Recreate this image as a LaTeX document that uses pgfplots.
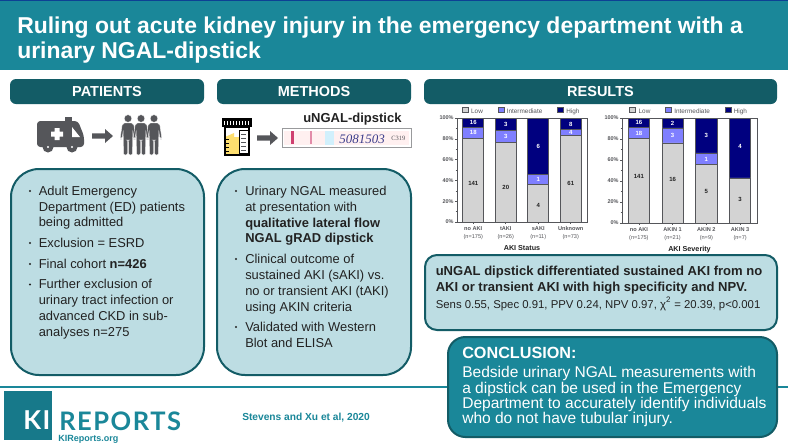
\documentclass[border=0pt]{standalone}
\usepackage{pgfplots}
\usepackage{pgfplotstable}
\usepackage{fontspec}
\pgfplotsset{compat=1.18}
\setmainfont{Liberation Sans}
\newfontfamily\logofont[LetterSpace=6]{Lato}
\newfontfamily\stripfont{Liberation Serif}

\definecolor{teal1}{HTML}{1A8799}
\definecolor{teal2}{HTML}{135C66}
\definecolor{boxfill}{HTML}{BDDDE3}
\definecolor{icon}{HTML}{55565A}
\definecolor{lowc}{HTML}{D3D3D3}
\definecolor{midc}{HTML}{7F7FFF}
\definecolor{highc}{HTML}{00007F}
\definecolor{txt}{HTML}{222222}

% sizes given in pixels of the 788 wide picture
\newcommand\fs[1]{\fontsize{\fpeval{0.75*#1}}{\fpeval{0.9*#1}}\selectfont}
\newcommand\tl[3]{\node[anchor=base west,inner sep=0pt,text=txt] at (#1,#2) {\fs{12.9}#3};}
\newcommand\bul[2]{\fill[txt] (#1,#2-4) circle (1.2);}
\newcommand\heading[3]{%
  \fill[teal2] (#1,79) [rounded corners=4.5pt] rectangle (#2,104);
  \node[text=white,font=\fs{14.5}\bfseries] at ({(#1+#2)/2},92) {#3};}
\newcommand\person[1]{%
  \begin{scope}[shift={(#1,0)}]
    \fill[icon,draw=white,line width=.25pt] (0,118.5) circle (3.8);
    \fill[icon,draw=white,line width=.25pt,rounded corners=1.5pt] (-5.5,123) -- (5.5,123) -- (8,139) -- (5.8,139) -- (4.8,130)
       -- (4.6,155) -- (0.5,155) -- (0.5,140) -- (-0.5,140) -- (-0.5,155) -- (-4.6,155) -- (-4.8,130)
       -- (-5.8,139) -- (-8,139) -- cycle;
  \end{scope}}
\newcommand\blockarrow[3]{\fill[icon] (#1,#3-2.6) -- (#2-8,#3-2.6) -- (#2-8,#3-7) -- (#2,#3) -- (#2-8,#3+7) -- (#2-8,#3+2.6) -- (#1,#3+2.6) -- cycle;}

% share of each group in percent, counts are in the label tables
\pgfplotstableread{
x low mid high
0 80.6 10.3 9.1
1 76.9 11.5 11.6
2 36.4 9.1 54.5
3 83.6 5.5 10.9
}\statusdata
\pgfplotstableread{
x low mid high
0 80.6 10.3 9.1
1 76.2 14.3 9.5
2 55.6 11.1 33.3
3 42.9 0 57.1
}\severitydata
\pgfplotstableread{
x y lab
0 37 141
1 33 20
2 16 4
3 37 61
}\statusdark
\pgfplotstableread{
x y lab
0 95.5 16
0 86 18
1 93.6 3
1 82 3
2 72.5 6
2 41 1
3 93.6 8
3 86 4
}\statuslight
\pgfplotstableread{
x y lab
0 44 141
1 41.6 16
2 30 5
3 22.7 3
}\severitydark
\pgfplotstableread{
x y lab
0 95.6 16
0 85 18
1 95 2
1 83 3
2 83 3
2 61 1
3 73 4
}\severitylight

\pgfplotsset{
  chartbase/.style={
    scale only axis, anchor=south west,
    xmin=-0.5, xmax=3.5, ymin=0, ymax=100,
  },
  stackchart/.style={
    chartbase,
    ybar stacked, bar width=15.9pt,
    axis line style={draw=icon,line width=.75pt},
    axis on top=false,
    xtick=data,
    ytick={0,20,40,60,80,100},
    yticklabels={0\%,20\%,40\%,60\%,80\%,100\%},
    minor ytick={10,30,50,70,90},
    tick style={draw=icon,line width=.4pt},
    major tick length=1.6pt, minor tick length=1pt,
    tick align=outside, xtick pos=bottom, ytick pos=left,
    yticklabel style={font=\fontsize{4.1}{5}\selectfont\bfseries,text=icon,inner sep=.8pt},
    xticklabel style={align=center,font=\fontsize{4.2}{6}\selectfont,text=icon,inner sep=1.5pt},
    every axis x label/.style={at={(axis description cs:0.5,-0.25)},anchor=center,
      font=\fontsize{5.4}{6}\selectfont\bfseries,text=txt},
    legend image code/.code={\draw[##1,line width=.45pt] (0pt,-.2pt) rectangle (4.5pt,3.6pt);},
    legend style={at={(0.5,1.03)},yshift=-2.4pt,anchor=south,legend columns=3,draw=none,fill=none,
      font=\fontsize{4.8}{6}\selectfont,text=icon,
      /tikz/every even column/.style={column sep=9pt},inner sep=0pt},
  },
  barlow/.style={draw=icon,fill=lowc,line width=.6pt},
  barmid/.style={draw=icon,fill=midc,line width=.6pt},
  barhigh/.style={draw=icon,fill=highc,line width=.6pt},
  labelchart/.style={
    chartbase, hide axis,
    nodes near coords, point meta=explicit symbolic,
    every node near coord/.style={anchor=center,inner sep=0pt,font=\fontsize{4.5}{5}\selectfont\bfseries},
  },
}

\begin{document}
\begin{tikzpicture}
\begin{scope}[x=.75pt,y=-.75pt]
  \useasboundingbox (0,0) rectangle (788,443);
  \fill[white] (0,0) rectangle (788,443);

  % title band
  \fill[teal1] (0,0) rectangle (788,70);
  \draw[teal2!70!blue,line width=.5pt] (0,.3) -- (788,.3);
  \node[anchor=base west,inner sep=0pt,text=white,font=\fs{22.95}\bfseries] at (17,33) {Ruling out acute kidney injury in the emergency department with a};
  \node[anchor=base west,inner sep=0pt,text=white,font=\fs{22.95}\bfseries] at (17,58) {urinary NGAL-dipstick};

  \heading{10}{204}{PATIENTS}
  \heading{217}{411}{METHODS}
  \heading{424}{777}{RESULTS}

  % ambulance
  \fill[icon,rounded corners=2.5pt] (37,121) -- (72,121) -- (78,121) -- (84,136) -- (84,147) -- (37,147) -- cycle;
  \fill[icon] (65,117) rectangle (72,122);
  \fill[icon] (48,147) circle (5.5) (72,147) circle (5.5);
  \fill[white] (48,147) circle (1.2) (72,147) circle (1.2);
  \fill[white] (72,127) -- (80,137) -- (72,137) -- cycle;
  \fill[white] (54.5,128) rectangle (59.5,140) (51,131.5) rectangle (63,136.5);
  \blockarrow{92}{113}{136}
  \person{128} \person{154} \person{141}

  % urine cup
  \fill[white] (225,127) rectangle (249,155);
  \fill[yellow!60!orange!55] (225,137) -- (234,133) -- (234,137) -- (249,137) -- (249,155) -- (225,155) -- cycle;
  \draw[black,line width=.9pt] (225,127) rectangle (249,155);
  \fill[black] (222,118) rectangle (252,127);
  \foreach \i in {224,227,...,250} \fill[white] (\i,121) rectangle (\i+1.4,125);
  \fill[white,draw=black,line width=.5pt] (239,130) rectangle (248,153);
  \foreach \i in {134,138,...,150} \draw[icon,line width=.5pt] (241,\i) -- (246,\i);
  \foreach \i in {139,143,...,151} \draw[black,line width=.5pt] (226,\i) -- (229,\i);

  \blockarrow{257}{278}{138}

  % dipstick
  \node[anchor=base west,inner sep=0pt,text=txt,font=\fs{13}\bfseries] at (303,122) {uNGAL-dipstick};
  \fill[white,draw=icon!60,line width=.6pt] (282,128) rectangle (411,147);
  \fill[red!6!white] (284,130.5) rectangle (409,144.5);
  \fill[cyan!18!white] (325,130.5) rectangle (334,144.5);
  \fill[purple!75!white] (290.5,131) rectangle (293.5,144);
  \fill[purple!45!white] (309.5,131) rectangle (312,144);
  \node[anchor=base west,inner sep=0pt,text=blue!30!icon,font=\stripfont\itshape\fs{13}] at (339,143) {5081503};
  \node[anchor=base west,inner sep=0pt,text=icon,font=\stripfont\fs{6.5}] at (391,140) {C319};

  % text boxes
  \draw[fill=boxfill,draw=teal2,line width=1.5pt,rounded corners=21pt] (11,169) rectangle (204,375);
  \draw[fill=boxfill,draw=teal2,line width=1.5pt,rounded corners=21pt] (217,169) rectangle (411,375);

  \bul{30}{195} \tl{38.5}{195}{Adult Emergency}
  \tl{38.5}{211}{Department (ED) patients}
  \tl{38.5}{226.5}{being admitted}
  \bul{30}{247} \tl{38.5}{247}{Exclusion = ESRD}
  \bul{30}{268} \tl{38.5}{268}{Final cohort \textbf{n=426}}
  \bul{30}{288.5} \tl{38.5}{288.5}{Further exclusion of}
  \tl{38.5}{304.5}{urinary tract infection or}
  \tl{38.5}{320}{advanced CKD in sub-}
  \tl{38.5}{336}{analyses n=275}

  \bul{236}{195} \tl{245}{195}{Urinary NGAL measured}
  \tl{245}{211}{at presentation with}
  \tl{245}{227}{\textbf{qualitative lateral flow}}
  \tl{245}{242}{\textbf{NGAL gRAD dipstick}}
  \bul{236}{263} \tl{245}{263}{Clinical outcome of}
  \tl{245}{279}{sustained AKI (sAKI) vs.}
  \tl{245}{295}{no or transient AKI (tAKI)}
  \tl{245}{311}{using AKIN criteria}
  \bul{236}{331} \tl{245}{331}{Validated with Western}
  \tl{245}{347}{Blot and ELISA}

  % results text
  \draw[fill=boxfill,draw=teal2,line width=1.5pt,rounded corners=9pt] (425,255) rectangle (777,330);
  \node[anchor=base west,inner sep=0pt,text=txt,font=\fs{13.03}\bfseries] at (435.5,275) {uNGAL dipstick differentiated sustained AKI from no};
  \node[anchor=base west,inner sep=0pt,text=txt,font=\fs{13.03}\bfseries] at (435.5,291) {AKI or transient AKI with high specificity and NPV.};
  \node[anchor=base west,inner sep=0pt,text=txt,font=\fs{11.37}] at (435.5,308) {Sens 0.55, Spec 0.91, PPV 0.24, NPV 0.97, χ\textsuperscript{2} = 20.39, p<0.001};

  % footer
  \draw[teal1,line width=1.5pt] (0,387) -- (449,387) (776,387) -- (788,387);
  \draw[fill=teal1,draw=teal2,line width=1.5pt,rounded corners=13pt] (448,337) rectangle (777,437);
  \node[anchor=base west,inner sep=0pt,text=white,font=\fs{16.2}\bfseries] at (462,358) {CONCLUSION:};
  \foreach \yy/\line in {377.5/Bedside urinary NGAL measurements with,393/a dipstick can be used in the Emergency,408.5/Department to accurately identify individuals,423.5/who do not have tubular injury.}
    \node[anchor=base west,inner sep=0pt,text=white,font=\fs{15.55}] at (462,\yy) {\line};

  \fill[teal1!90!black] (4,391) rectangle (52,440);
  \node[anchor=base west,inner sep=0pt,text=white,font=\logofont\bfseries\fs{26}] at (23,429) {KI};
  \node[anchor=base west,inner sep=0pt,text=teal1,font=\logofont\bfseries\fs{25.5}] at (59,430) {REPORTS};
  \node[anchor=base west,inner sep=0pt,text=teal1,font=\fs{9}\bfseries] at (58,441) {KIReports.org};
  \node[anchor=base west,inner sep=0pt,text=teal1,font=\fs{10.2}\bfseries] at (242,420) {Stevens and Xu et al, 2020};

  \coordinate (cha) at (457,222);
  \coordinate (chb) at (622,223);
\end{scope}

% left chart
\begin{axis}[stackchart,at={(cha)},width=97.5pt,height=78pt,
  xlabel={AKI Status},
  xticklabels={{\textbf{no AKI}\\(n=175)},{\textbf{tAKI}\\(n=26)},{\textbf{sAKI}\\(n=11)},{\textbf{Unknown}\\(n=73)}}]
\addplot[barlow] table[x=x,y=low]{\statusdata};
\addplot[barmid] table[x=x,y=mid]{\statusdata};
\addplot[barhigh] table[x=x,y=high]{\statusdata};
\legend{Low,Intermediate,High}
\end{axis}
\begin{axis}[labelchart,at={(cha)},width=97.5pt,height=78pt]
\addplot[draw=none,mark=none,nodes near coords style={text=txt}] table[x=x,y=y,meta=lab]{\statusdark};
\addplot[draw=none,mark=none,nodes near coords style={text=white}] table[x=x,y=y,meta=lab]{\statuslight};
\end{axis}

% right chart
\begin{axis}[stackchart,at={(chb)},width=101.25pt,height=78.75pt,
  xlabel={AKI Severity},
  xticklabels={{\textbf{no AKI}\\(n=175)},{\textbf{AKIN 1}\\(n=21)},{\textbf{AKIN 2}\\(n=9)},{\textbf{AKIN 3}\\(n=7)}}]
\addplot[barlow] table[x=x,y=low]{\severitydata};
\addplot[barmid] table[x=x,y=mid]{\severitydata};
\addplot[barhigh] table[x=x,y=high]{\severitydata};
\legend{Low,Intermediate,High}
\end{axis}
\begin{axis}[labelchart,at={(chb)},width=101.25pt,height=78.75pt]
\addplot[draw=none,mark=none,nodes near coords style={text=txt}] table[x=x,y=y,meta=lab]{\severitydark};
\addplot[draw=none,mark=none,nodes near coords style={text=white}] table[x=x,y=y,meta=lab]{\severitylight};
\end{axis}
\end{tikzpicture}
\end{document}
